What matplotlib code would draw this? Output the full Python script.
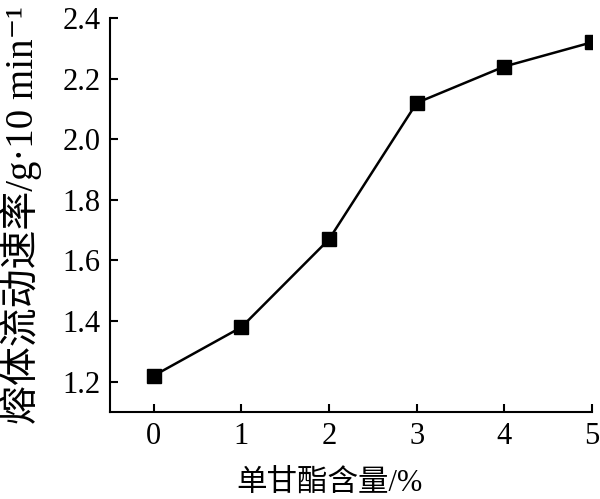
import matplotlib.pyplot as plt

plt.rcParams['font.family'] = ['Liberation Serif', 'Noto Sans CJK SC', 'DejaVu Serif']

content = [0, 1, 2, 3, 4, 5]
melt_rate = [1.22, 1.38, 1.67, 2.12, 2.24, 2.32]

fig = plt.figure(figsize=(6, 4.99), dpi=100)
ax = fig.add_axes([0.1833, 0.1743, 0.8034, 0.7896])
ax.plot(content, melt_rate, color='black', linewidth=1.8,
        marker='s', markersize=10)

ax.set_xlim(-0.5, 5)
ax.set_ylim(1.1, 2.4)
ax.set_xticks(content)
ax.set_yticks([1.2, 1.4, 1.6, 1.8, 2.0, 2.2, 2.4])
ax.set_yticklabels(['1.2', '1.4', '1.6', '1.8', '2.0', '2.2', '2.4'])
for s in ['top', 'right']:
    ax.spines[s].set_visible(False)
for s in ['left', 'bottom']:
    ax.spines[s].set_linewidth(1.5)
ax.tick_params(direction='in', length=6, width=1.5, labelsize=22, pad=7)
ax.set_xlabel('单甘酯含量/%', fontsize=22, va='center')
ax.xaxis.set_label_coords(0.455, -0.183)
ax.set_ylabel('熔体流动速率/g·10 min⁻¹', fontsize=28, va='center')
ax.yaxis.set_label_coords(-0.185, 0.5)

fig.savefig('out.png', dpi=100)
